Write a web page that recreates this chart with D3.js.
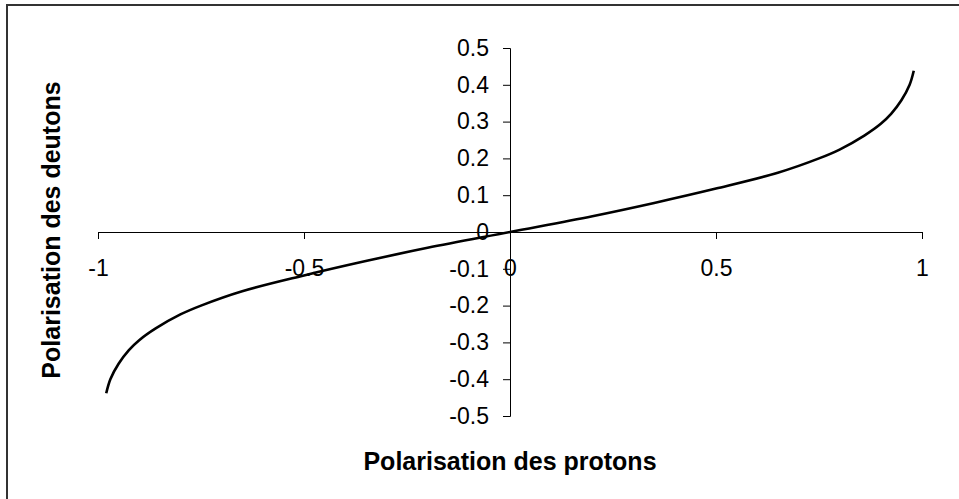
<!DOCTYPE html>
<html>
<head>
<meta charset="utf-8">
<script src="https://cdn.jsdelivr.net/npm/d3@7"></script>
<style>
  html, body { margin: 0; padding: 0; background: #fff; }
  svg { display: block; }
  .tick text { font-family: "Liberation Sans", Arial, sans-serif; font-size: 23px; fill: #000; }
  .title { font-family: "Liberation Sans", Arial, sans-serif; font-size: 25px; font-weight: bold; fill: #000; }
</style>
</head>
<body>
<svg id="chart" width="959" height="499"></svg>
<script>
// Data
const protonPol = [-0.98, -0.97, -0.95, -0.925, -0.9, -0.86, -0.8, -0.75, -0.65, -0.5, -0.35, -0.2, 0,
                   0.2, 0.35, 0.5, 0.65, 0.75, 0.8, 0.86, 0.9, 0.925, 0.95, 0.97, 0.98];
const deutonPol = [-0.438, -0.4, -0.358, -0.321, -0.294, -0.262, -0.224, -0.2, -0.161, -0.118, -0.079, -0.043, 0,
                   0.043, 0.079, 0.118, 0.161, 0.2, 0.224, 0.262, 0.294, 0.321, 0.358, 0.4, 0.438];
const xTicks = [-1, -0.5, 0, 0.5, 1];
const xTickLabels = ["-1", "-0.5", "0", "0.5", "1"];
const yTicks = [-0.5, -0.4, -0.3, -0.2, -0.1, 0, 0.1, 0.2, 0.3, 0.4, 0.5];
const yTickLabels = ["-0.5", "-0.4", "-0.3", "-0.2", "-0.1", "0", "0.1", "0.2", "0.3", "0.4", "0.5"];
const xTitle = "Polarisation des protons";
const yTitle = "Polarisation des deutons";

const svg = d3.select("#chart");

// outer frame
svg.append("rect")
  .attr("x", 7).attr("y", 5)
  .attr("width", 1000).attr("height", 600)
  .attr("fill", "none").attr("stroke", "#333").attr("stroke-width", 2);

const x = d3.scaleLinear().domain([-1, 1]).range([98, 922]);
const y = d3.scaleLinear().domain([-0.5, 0.5]).range([416, 48]);

// X axis at y = 0
const xAxis = d3.axisBottom(x)
  .tickValues(xTicks)
  .tickSize(7)
  .tickPadding(21)
  .tickFormat((d, i) => xTickLabels[i]);
const gx = svg.append("g")
  .attr("transform", `translate(0,${y(0)})`)
  .call(xAxis);
gx.select(".domain").attr("stroke", "#000").attr("stroke-width", 1);
gx.selectAll(".tick line").attr("stroke", "#000");

// Y axis at x = 0
const yAxis = d3.axisLeft(y)
  .tickValues(yTicks)
  .tickSize(7)
  .tickPadding(14)
  .tickFormat((d, i) => yTickLabels[i]);
const gy = svg.append("g")
  .attr("transform", `translate(${x(0)},0)`)
  .call(yAxis);
gy.select(".domain").attr("stroke", "#000").attr("stroke-width", 1);
gy.selectAll(".tick line").attr("stroke", "#000");

// Curve
const pts = protonPol.map((p, i) => [p, deutonPol[i]]);
const line = d3.line()
  .x(d => x(d[0]))
  .y(d => y(d[1]))
  .curve(d3.curveCatmullRom.alpha(0.5));
svg.append("path")
  .datum(pts)
  .attr("d", line)
  .attr("fill", "none")
  .attr("stroke", "#000")
  .attr("stroke-width", 2.6)
  .attr("stroke-linejoin", "round");

// Titles
svg.append("text")
  .attr("class", "title")
  .attr("x", x(0)).attr("y", 470)
  .attr("text-anchor", "middle")
  .text(xTitle);

svg.append("text")
  .attr("class", "title")
  .attr("transform", `translate(60,${y(0) - 2}) rotate(-90)`)
  .attr("text-anchor", "middle")
  .text(yTitle);
</script>
</body>
</html>
